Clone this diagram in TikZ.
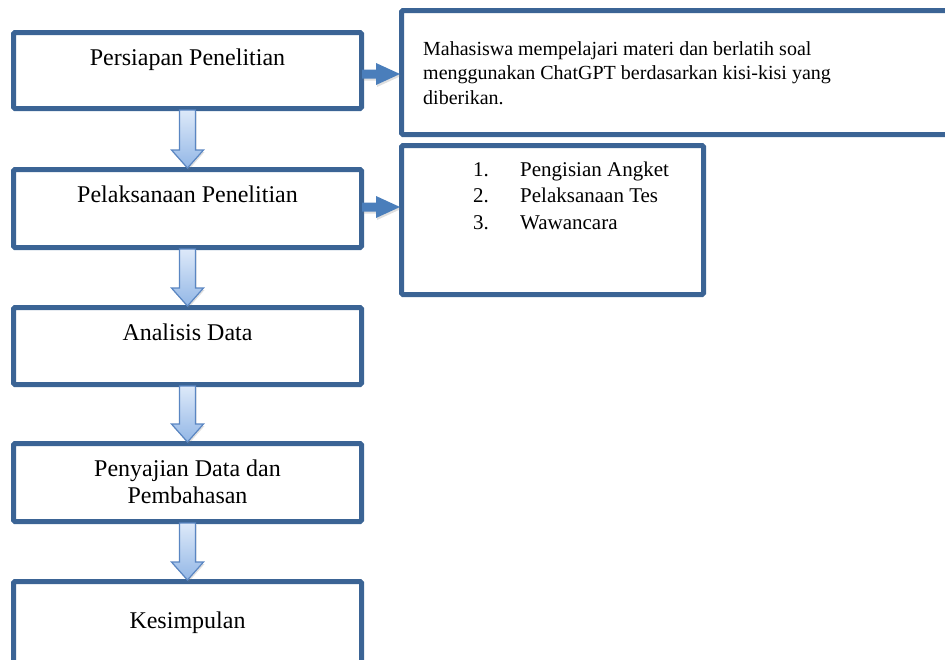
\documentclass[tikz,border=0pt]{standalone}
\usepackage{fontspec}
\setmainfont{Liberation Serif}
\usetikzlibrary{calc,shadows}
\definecolor{boxblue}{HTML}{3B6495}
\definecolor{arrowline}{HTML}{5A86C2}
\definecolor{arrowtop}{HTML}{DDE9F9}
\definecolor{arrowbot}{HTML}{93B7E6}
\definecolor{rarrow}{HTML}{4A7EBB}
\newcommand\dnarrow[2]{%
  \draw[downarrow] ($(#1.south)+(-8,-1)$) -- ($(#2.north)+(-8,-17)$) -- ($(#2.north)+(-16,-17)$)
    -- ($(#2.north)+(0,1)$) -- ($(#2.north)+(16,-17)$) -- ($(#2.north)+(8,-17)$) -- ($(#1.south)+(8,-1)$) -- cycle;}
\newcommand\rtarrow[3]{%
  \fill[rightarrow] ($(#1.east|-0,#3)+(-2,-4.5)$) -- ($(#1.east|-0,#3)+(12,-4.5)$) -- ($(#1.east|-0,#3)+(12,-11)$)
    -- ($(#2.west|-0,#3)+(1,0)$) -- ($(#1.east|-0,#3)+(12,11)$) -- ($(#1.east|-0,#3)+(12,4.5)$) -- ($(#1.east|-0,#3)+(-2,4.5)$) -- cycle;}
\begin{document}
\begin{tikzpicture}[x=1pt,y=-1pt,
  box/.style={draw=boxblue,line width=5pt,rounded corners=1.5pt,fill=white,inner sep=0pt},
  downarrow/.style={draw=arrowline,line width=1.2pt,top color=arrowtop,bottom color=arrowbot,
     drop shadow={opacity=0.25,shadow xshift=1pt,shadow yshift=-2pt}},
  rightarrow/.style={fill=rarrow,drop shadow={opacity=0.25,shadow xshift=1pt,shadow yshift=-2pt}},
  lefttext/.style={font=\fontsize{24}{27}\selectfont,anchor=base,inner sep=0pt},
  righttext/.style={font=\fontsize{20}{24.5}\selectfont,anchor=base west,inner sep=0pt},
  listtext/.style={font=\fontsize{21}{26}\selectfont,anchor=base west,inner sep=0pt}]
\useasboundingbox (0,0) rectangle (945,659);
\clip (0,0) rectangle (945,659);
% left column boxes
\node[box,minimum width=348pt,minimum height=76pt] (b1) at (187.5,70.5) {};
\node[box,minimum width=348pt,minimum height=78pt] (b2) at (187.5,208.5) {};
\node[box,minimum width=348pt,minimum height=77pt] (b3) at (187.5,346) {};
\node[box,minimum width=348pt,minimum height=78pt] (b4) at (187.5,482.5) {};
\node[box,minimum width=348pt,minimum height=120pt] (b5) at (187.5,641.5) {};
% right boxes
\node[box,minimum width=560pt,minimum height=124pt] (r1) at (681.5,72.5) {};
\node[box,minimum width=302pt,minimum height=149pt] (r2) at (552.5,220) {};
% texts
\node[lefttext] (t1) at (187.5,65.5) {Persiapan Penelitian};
\node[lefttext] (t2) at (187.5,202) {Pelaksanaan Penelitian};
\node[lefttext] (t3) at (187.5,340) {Analisis Data};
\node[lefttext] (t4a) at (187.5,476) {Penyajian Data dan};
\node[lefttext] (t4b) at (187.5,503) {Pembahasan};
\node[lefttext] (t5) at (187.5,628) {Kesimpulan};
\node[righttext] (m1) at (423,55) {Mahasiswa mempelajari materi dan berlatih soal};
\node[righttext] (m2) at (423,79.5) {menggunakan ChatGPT berdasarkan kisi-kisi yang};
\node[righttext] (m3) at (423,104) {diberikan.};
\node[listtext] (n1) at (473,176) {1.};
\node[listtext] (n2) at (473,202.5) {2.};
\node[listtext] (n3) at (473,229) {3.};
\node[listtext] (i1) at (520,176) {Pengisian Angket};
\node[listtext] (i2) at (520,202.5) {Pelaksanaan Tes};
\node[listtext] (i3) at (520,229) {Wawancara};
% connectors
\dnarrow{b1}{b2}
\dnarrow{b2}{b3}
\dnarrow{b3}{b4}
\dnarrow{b4}{b5}
\rtarrow{b1}{r1}{74}
\rtarrow{b2}{r2}{207}
\end{tikzpicture}
\end{document}
